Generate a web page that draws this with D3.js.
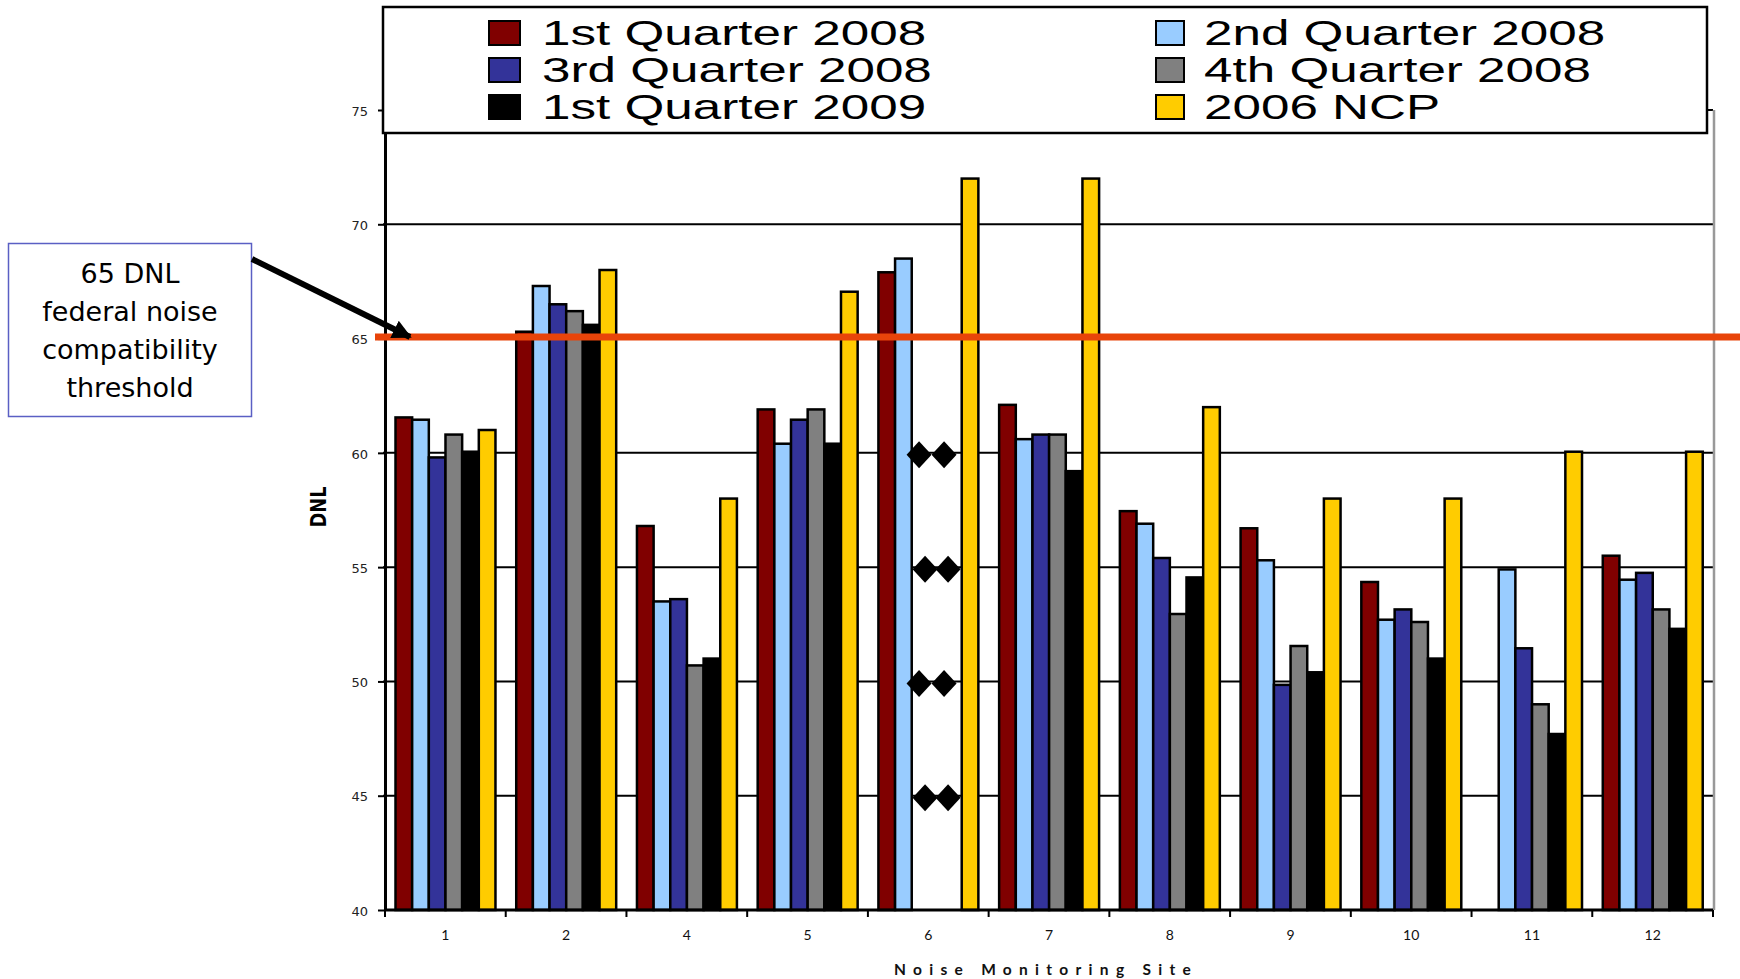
<!DOCTYPE html>
<html>
<head>
<meta charset="utf-8">
<script src="https://cdn.jsdelivr.net/npm/d3@7"></script>
<style>
  html, body { margin: 0; padding: 0; background: #fff; }
  svg { display: block; }
</style>
</head>
<body>
<svg id="chart" width="1740" height="979"></svg>
<script>
// ---------------- DATA ----------------
const sites = ["1", "2", "4", "5", "6", "7", "8", "9", "10", "11", "12"];
const seriesNames = ["1st Quarter 2008", "2nd Quarter 2008", "3rd Quarter 2008",
                     "4th Quarter 2008", "1st Quarter 2009", "2006 NCP"];
const seriesColors = ["#800000", "#99ccff", "#333399", "#808080", "#000000", "#ffcc00"];
const q1_2008 = [61.55, 65.3, 56.8, 61.9, 67.9, 62.1, 57.45, 56.7, 54.35, null, 55.5];
const q2_2008 = [61.45, 67.3, 53.5, 60.4, 68.5, 60.6, 56.9, 55.3, 52.7, 54.9, 54.45];
const q3_2008 = [59.8, 66.5, 53.6, 61.45, null, 60.8, 55.4, 49.85, 53.15, 51.45, 54.75];
const q4_2008 = [60.8, 66.2, 50.7, 61.9, null, 60.8, 52.95, 51.55, 52.6, 49.0, 53.15];
const q1_2009 = [60.05, 65.6, 51.0, 60.4, null, 59.2, 54.55, 50.4, 51.0, 47.7, 52.3];
const ncp2006 = [61.0, 68.0, 58.0, 67.05, 72.0, 72.0, 62.0, 58.0, 58.0, 60.05, 60.05];
const yTicks = [40, 45, 50, 55, 60, 65, 70, 75];
const threshold = 65;
const noDataSite = "6";
const noDataMarks = [60, 55, 50, 45];
const annotationLines = ["65 DNL", "federal noise", "compatibility", "threshold"];
const yTitle = "DNL";
const xTitle = "Noise Monitoring Site";

const seriesValues = [q1_2008, q2_2008, q3_2008, q4_2008, q1_2009, ncp2006];

// ---------------- LAYOUT ----------------
const svg = d3.select("#chart");
const plot = { left: 385, right: 1713, top: 110, bottom: 910 };

const x = d3.scaleBand().domain(sites).range([plot.left, plot.right]).paddingInner(0).paddingOuter(0);
const bw = x.bandwidth();
const xSub = d3.scaleBand().domain(seriesNames).range([bw * 0.087, bw * 0.915]);
const y = d3.scaleLinear().domain([40, 75]).range([plot.bottom, plot.top]);

// gridlines
svg.append("g").selectAll("line")
  .data(yTicks.filter(d => d > 40))
  .join("line")
  .attr("x1", plot.left - 2).attr("x2", plot.right)
  .attr("y1", d => y(d)).attr("y2", d => y(d))
  .attr("stroke", "#000").attr("stroke-width", 2);

// bars
const barData = [];
seriesNames.forEach((s, si) => {
  sites.forEach((site, i) => {
    const v = seriesValues[si][i];
    if (v !== null) barData.push({ site, series: s, color: seriesColors[si], value: v });
  });
});
svg.append("g").selectAll("rect")
  .data(barData)
  .join("rect")
  .attr("x", d => x(d.site) + xSub(d.series))
  .attr("width", xSub.bandwidth())
  .attr("y", d => y(d.value))
  .attr("height", d => y(40) - y(d.value))
  .attr("fill", d => d.color)
  .attr("stroke", "#000")
  .attr("stroke-width", 2.5);

// no-data diamonds at site 6
const diamondPairs = [];
noDataMarks.forEach((v, i) => {
  const cx0 = x(noDataSite) + xSub(seriesNames[2]) + xSub.bandwidth() / 2 - 1 + (i % 2) * 6;
  diamondPairs.push({ cx: cx0, v });
  diamondPairs.push({ cx: cx0 + 25 - (i % 2) * 2, v });
});
svg.append("g").selectAll("path")
  .data(diamondPairs)
  .join("path")
  .attr("d", d => {
    const cy = y(d.v) + 2, w = 12.5, h = 13.5;
    return `M${d.cx},${cy - h}L${d.cx + w},${cy}L${d.cx},${cy + h}L${d.cx - w},${cy}Z`;
  })
  .attr("fill", "#000");

// right plot border (grey)
svg.append("line")
  .attr("x1", plot.right + 1).attr("x2", plot.right + 1)
  .attr("y1", plot.top).attr("y2", plot.bottom)
  .attr("stroke", "#999").attr("stroke-width", 2.5);

// y axis
const yAxis = svg.append("g")
  .attr("transform", `translate(${plot.left},0)`)
  .call(d3.axisLeft(y).tickValues(yTicks).tickSize(7).tickSizeOuter(0).tickPadding(10));
yAxis.select(".domain").attr("stroke", "#000").attr("stroke-width", 3);
yAxis.selectAll(".tick line").attr("stroke", "#000").attr("stroke-width", 2);
yAxis.selectAll(".tick text")
  .attr("font-family", "DejaVu Sans, Verdana, sans-serif")
  .attr("font-size", 13).attr("fill", "#222")
  .attr("dy", "0.4em");

// x axis line
svg.append("line")
  .attr("x1", plot.left).attr("x2", plot.right)
  .attr("y1", plot.bottom).attr("y2", plot.bottom)
  .attr("stroke", "#000").attr("stroke-width", 3);
// x ticks at band boundaries
svg.append("g").selectAll("line")
  .data(sites.map(s => x(s)).concat([plot.right]))
  .join("line")
  .attr("x1", d => d).attr("x2", d => d)
  .attr("y1", plot.bottom).attr("y2", plot.bottom + 7)
  .attr("stroke", "#000").attr("stroke-width", 2);
// x labels
const xAxis = svg.append("g")
  .attr("transform", `translate(0,${plot.bottom})`)
  .call(d3.axisBottom(x).tickSize(0).tickPadding(20));
xAxis.select(".domain").remove();
xAxis.selectAll(".tick text")
  .attr("font-family", "Lato, Open Sans, sans-serif")
  .attr("font-size", 14).attr("fill", "#111");

// axis titles
svg.append("text")
  .attr("x", 1046).attr("y", 975)
  .attr("text-anchor", "middle")
  .attr("font-family", "Lato, Open Sans, sans-serif")
  .attr("font-weight", "bold")
  .attr("font-size", 15.5)
  .attr("letter-spacing", "7.3px")
  .attr("fill", "#111")
  .text(xTitle);

svg.append("text")
  .attr("transform", "translate(326,507) rotate(-90)")
  .attr("text-anchor", "middle")
  .attr("font-family", "DejaVu Sans, sans-serif")
  .attr("font-weight", "bold")
  .attr("font-size", 22)
  .attr("textLength", 41)
  .attr("lengthAdjust", "spacingAndGlyphs")
  .attr("fill", "#000")
  .text(yTitle);

// threshold line
svg.append("line")
  .attr("x1", 375).attr("x2", 1740)
  .attr("y1", y(threshold) - 1.5).attr("y2", y(threshold) - 1.5)
  .attr("stroke", "#e8440a").attr("stroke-width", 7);

// legend
const legend = svg.append("g");
legend.append("rect")
  .attr("x", 383).attr("y", 7).attr("width", 1324).attr("height", 126)
  .attr("fill", "#fff").attr("stroke", "#000").attr("stroke-width", 2.5);
const colSquareX = [489, 1156];
const colTextX = [542, 1204];
const rowCenterY = [33, 70, 107];
const legendItems = seriesNames.map((s, i) => ({ name: s, color: seriesColors[i], col: i % 2, row: Math.floor(i / 2) }));
const li = legend.selectAll("g.item").data(legendItems).join("g").attr("class", "item");
li.append("rect")
  .attr("x", d => colSquareX[d.col]).attr("y", d => rowCenterY[d.row] - 12)
  .attr("width", d => d.col === 0 ? 31 : 28).attr("height", 24)
  .attr("fill", d => d.color).attr("stroke", "#000").attr("stroke-width", 2);
li.append("text")
  .attr("transform", d => `translate(${colTextX[d.col]},${rowCenterY[d.row] + 12}) scale(1.6,1.1)`)
  .attr("font-family", "Liberation Sans, Arial, sans-serif")
  .attr("font-size", 32)
  .attr("fill", "#000")
  .text(d => d.name);

// annotation box
svg.append("rect")
  .attr("x", 8.5).attr("y", 243.5).attr("width", 243).attr("height", 173)
  .attr("fill", "#fff").attr("stroke", "#5a5fc4").attr("stroke-width", 1.5);
svg.append("g").selectAll("text")
  .data(annotationLines)
  .join("text")
  .attr("x", 130)
  .attr("y", (d, i) => 283 + i * 38)
  .attr("text-anchor", "middle")
  .attr("font-family", "DejaVu Sans, Verdana, sans-serif")
  .attr("font-size", 27)
  .attr("fill", "#000")
  .text(d => d);

// arrow
const defs = svg.append("defs");
defs.append("marker")
  .attr("id", "arrowhead")
  .attr("viewBox", "0 0 10 10")
  .attr("refX", 9).attr("refY", 5)
  .attr("markerWidth", 3.2).attr("markerHeight", 3.2)
  .attr("orient", "auto")
  .append("path").attr("d", "M0,0L10,5L0,10Z").attr("fill", "#000");
svg.append("line")
  .attr("x1", 252).attr("y1", 259)
  .attr("x2", 410).attr("y2", 337)
  .attr("stroke", "#000").attr("stroke-width", 6)
  .attr("marker-end", "url(#arrowhead)");
</script>
</body>
</html>
